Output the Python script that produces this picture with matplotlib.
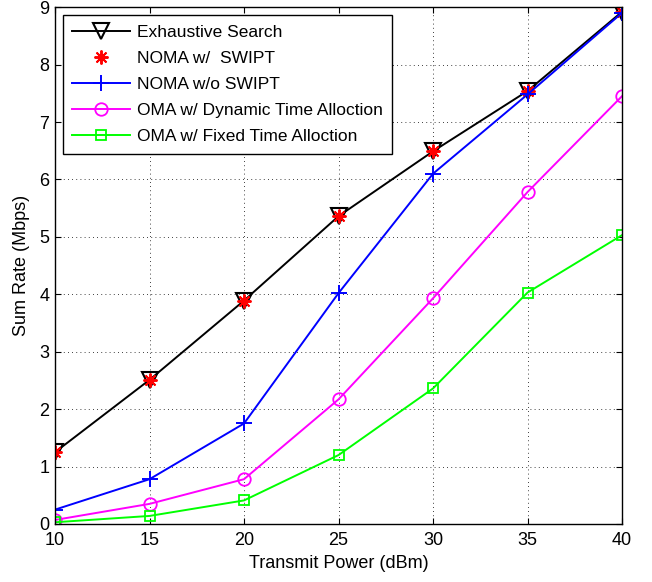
import matplotlib
matplotlib.use("Agg")
import matplotlib.pyplot as plt

plt.rcParams['font.family'] = ['Liberation Sans', 'DejaVu Sans']

power_dbm = [10, 15, 20, 25, 30, 35, 40]
exhaustive = [1.25, 2.51, 3.89, 5.36, 6.49, 7.54, 8.92]
noma_swipt = [1.25, 2.51, 3.89, 5.36, 6.49, 7.54, 8.92]
noma_no_swipt = [0.25, 0.78, 1.75, 4.02, 6.10, 7.48, 8.90]
oma_dynamic = [0.07, 0.35, 0.78, 2.17, 3.93, 5.78, 7.45]
oma_fixed = [0.03, 0.14, 0.41, 1.20, 2.36, 4.03, 5.03]

fig = plt.figure(figsize=(6.52, 5.82), dpi=100)
ax = fig.add_axes([0.0844, 0.0997, 0.8696, 0.888])

ax.plot(power_dbm, exhaustive, color='k', lw=1.4, marker='v', ms=12,
        mfc='none', mec='k', mew=1.5, label='Exhaustive Search')
ax.plot(power_dbm, noma_swipt, ls='none', marker=(8, 2, 0), ms=10,
        mec='r', mew=1.4, color='r', label='NOMA w/  SWIPT')
ax.plot(power_dbm, noma_no_swipt, color='b', lw=1.4, marker='+', ms=12,
        mew=1.4, label='NOMA w/o SWIPT')
ax.plot(power_dbm, oma_dynamic, color='#ff00ff', lw=1.4, marker='o', ms=9,
        mfc='none', mew=1.3, label='OMA w/ Dynamic Time Alloction')
ax.plot(power_dbm, oma_fixed, color='#00ff00', lw=1.4, marker='s', ms=7.5,
        mfc='none', mew=1.3, label='OMA w/ Fixed Time Alloction')

ax.set_xlim(10, 40)
ax.set_ylim(0, 9)
ax.set_xticks(power_dbm)
ax.set_yticks(range(0, 10))
ax.set_xlabel('Transmit Power (dBm)', fontsize=13, labelpad=4)
ax.set_ylabel('Sum Rate (Mbps)', fontsize=13, labelpad=7)
ax.tick_params(direction='in', top=True, right=True, labelsize=13,
               length=4, width=0.8)
ax.tick_params(axis='x', pad=6)
ax.tick_params(axis='y', pad=4)
ax.grid(True, color='k', ls=(0, (1, 4)), lw=0.6)
for s in ax.spines.values():
    s.set_linewidth(1.0)

leg = ax.legend(loc='upper left', fontsize=12.5, fancybox=False, framealpha=1,
                edgecolor='k', borderaxespad=0.45, handlelength=3.3,
                handletextpad=0.4, labelspacing=0.63, borderpad=0.55)
leg.get_frame().set_linewidth(1.0)

fig.savefig('out.png', dpi=100)
